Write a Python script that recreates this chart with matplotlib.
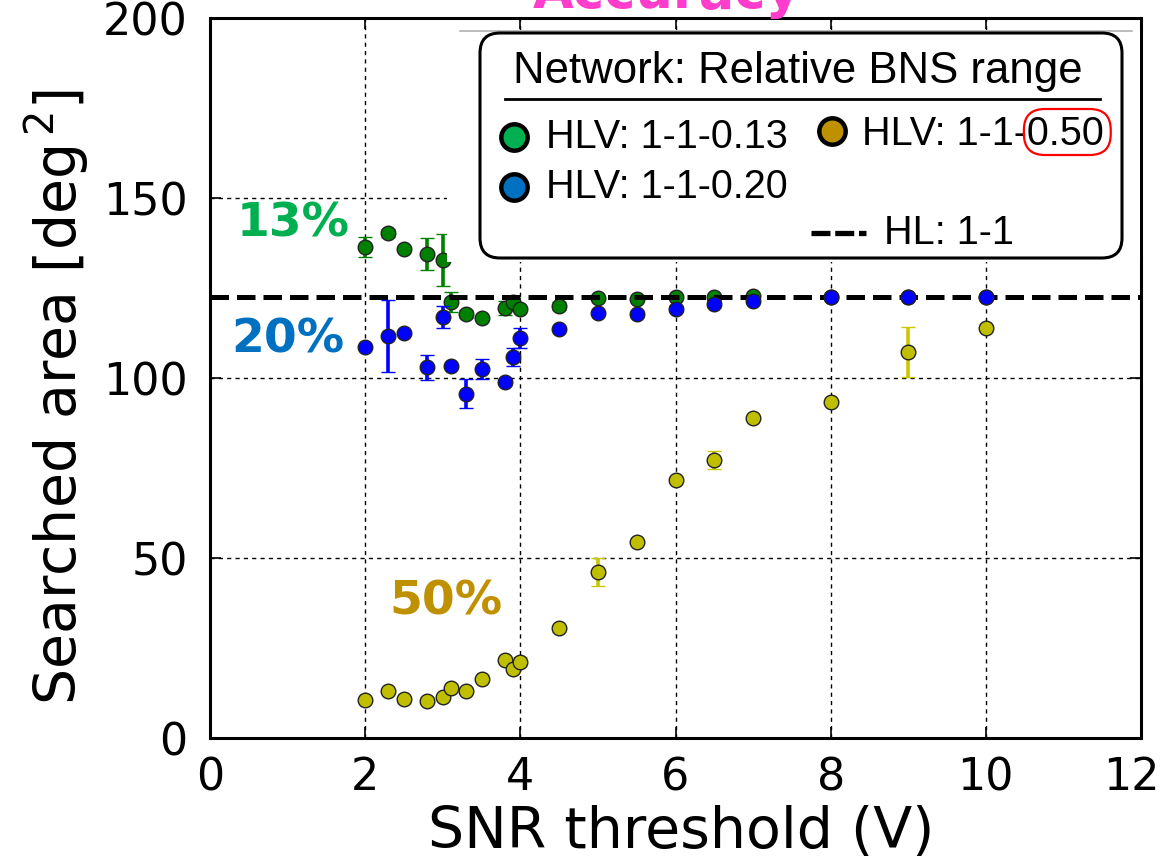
import matplotlib
matplotlib.use("Agg")
import matplotlib.pyplot as plt
from matplotlib.patches import FancyBboxPatch, Rectangle
from matplotlib.lines import Line2D
from matplotlib.transforms import Affine2D, ScaledTranslation

# ---------------- data ----------------
snr = [2.0, 2.3, 2.5, 2.8, 3.0, 3.1, 3.3, 3.5, 3.8, 3.9, 4.0, 4.5,
       5.0, 5.5, 6.0, 6.5, 7.0, 8.0, 9.0, 10.0]

area_013 = [136.4, 140.3, 135.8, 134.4, 132.8, 121.1, 117.8, 116.7, 119.4, 121.1,
            119.2, 120.0, 122.2, 122.0, 122.5, 122.6, 122.8, 122.6, 122.6, 122.6]
err_013 = [2.8, 1.0, 0.5, 4.4, 7.2, 2.8, 1.0, 0.5, 2.0, 1.0,
           0.5, 1.0, 0.5, 0.5, 0.5, 0.5, 0.5, 0.3, 0.3, 0.3]

area_020 = [108.6, 111.7, 112.5, 103.0, 116.9, 103.3, 95.6, 102.5, 98.9, 105.8,
            111.1, 113.6, 118.0, 117.8, 119.2, 120.6, 121.4, 122.5, 122.5, 122.5]
err_020 = [0.5, 10.0, 0.5, 3.5, 3.0, 0.5, 4.0, 2.7, 0.8, 2.5,
           2.8, 0.5, 0.5, 0.8, 0.8, 0.8, 0.5, 0.3, 0.3, 0.3]

area_050 = [10.6, 13.1, 10.7, 10.4, 11.3, 13.9, 13.1, 16.3, 21.7, 19.1,
            21.2, 30.5, 46.0, 54.4, 71.8, 77.3, 89.0, 93.2, 107.2, 113.9]
err_050 = [0.5, 0.5, 1.0, 1.0, 0.5, 0.5, 0.5, 0.5, 0.5, 0.5,
           1.2, 1.0, 3.9, 0.5, 0.8, 2.5, 0.5, 0.5, 7.0, 0.8]

hl_area = 122.5

x_ticks = [0, 2, 4, 6, 8, 10, 12]
y_ticks = [0, 50, 100, 150, 200]

legend_title = "Network: Relative BNS range"
legend_labels = ["HLV: 1-1-0.13", "HLV: 1-1-0.20", "HLV: 1-1-0.50", "HL: 1-1"]
legend_colors = ["#00b050", "#0070c0", "#bf9000"]
pct_labels = ["13%", "20%", "50%"]

# ---------------- figure ----------------
W, H = 1166, 868
fig = plt.figure(figsize=(W / 100, H / 100), dpi=100)
L, R, T, B = 210, 1141, 18, 738
ax = fig.add_axes([L / W, 1 - B / H, (R - L) / W, (B - T) / H])

# pixel (top-left origin) -> figure transform for decorations
P = Affine2D().scale(1 / W, -1 / H).translate(0, 1) + fig.transFigure

ms = 10.5
ekw = dict(fmt="o", ms=ms, mec="#222222", mew=1.0, elinewidth=2.6,
           capsize=5, capthick=1.8)

ax.errorbar(snr, area_050, yerr=err_050, color="#bfbf00", ecolor="#c8c800",
            zorder=3, **ekw)
ax.errorbar(snr, area_013, yerr=err_013, color="#008000", ecolor="#008000",
            zorder=3, **ekw)
ax.axhline(hl_area, color="black", lw=3.6, ls="--", zorder=4)
ax.errorbar(snr, area_020, yerr=err_020, color="#0000ff", ecolor="#0000ff",
            zorder=5, **ekw)

ax.set_xlim(0, 12)
ax.set_ylim(0, 200)
ax.set_xticks(x_ticks)
ax.set_yticks(y_ticks)
ax.grid(True, color="black", ls=(0, (3, 3)), lw=1.0, zorder=0)
ax.set_axisbelow(True)
ax.tick_params(direction="in", length=8, width=1.2, top=True, right=True,
               labelsize=32)
ax.tick_params(axis="x", pad=13)
ax.tick_params(axis="y", pad=16)
for s in ax.spines.values():
    s.set_linewidth(2.2)

# keep the last x tick label inside the figure (as in the reference)
last = ax.get_xticklabels()[-1]
last.set_transform(last.get_transform() +
                   ScaledTranslation(-10 / 100, 0, fig.dpi_scale_trans))

ax.set_xlabel("SNR threshold (V)", fontsize=41)
ax.xaxis.set_label_coords(0.506, -0.093)
ax.set_ylabel("Searched area [deg$^{\\,2}$]", fontsize=41)
ax.yaxis.set_label_coords(-0.128, 0.474)

# percentage annotations
ax.text(1.07, 142.8, pct_labels[0], color=legend_colors[0], fontsize=34,
        fontweight="bold", ha="center", va="center", zorder=6)
ax.text(1.00, 110.6, pct_labels[1], color=legend_colors[1], fontsize=34,
        fontweight="bold", ha="center", va="center", zorder=6)
ax.text(3.04, 37.9, pct_labels[2], color=legend_colors[2], fontsize=34,
        fontweight="bold", ha="center", va="center", zorder=6)

# title (partly cut off at top, as in the reference)
fig.text(667 / W, 1 - 8 / H, "Accuracy", color="#ff3ccc", fontsize=38,
         fontweight="bold", ha="center", va="baseline", zorder=20)

# ---------------- legend (custom panel) ----------------
fig.add_artist(Rectangle((447, 262), 693, -232, transform=P, facecolor="white",
                         edgecolor="none", zorder=8))
fig.add_artist(Line2D([460, 1132], [31, 31], transform=P, color="#b0b0b0",
                      lw=1.2, zorder=8))
fig.add_artist(FancyBboxPatch((480, 33), 642, 225, transform=P,
                              boxstyle="round,pad=0,rounding_size=20",
                              facecolor="white", edgecolor="black", lw=2.2,
                              zorder=9))
lf = "Liberation Sans"
fig.text(798 / W, 1 - 83 / H, legend_title, transform=fig.transFigure,
         fontsize=31.5, family=lf, ha="center", va="baseline", zorder=10)
fig.add_artist(Line2D([505, 1100], [99, 99], transform=P, color="black",
                      lw=2.0, zorder=10))

marker_pos = [(514, 137), (514, 187), (832, 131)]
text_pos = [(546, 137), (546, 187), (862, 134)]
gold_text = None
for i in range(3):
    fig.add_artist(Line2D([marker_pos[i][0]], [marker_pos[i][1]], transform=P,
                          marker="o", ms=19, mfc=legend_colors[i], mec="black",
                          mew=3.2, ls="none", zorder=10))
    t = fig.text(text_pos[i][0] / W, 1 - text_pos[i][1] / H, legend_labels[i],
                 fontsize=28.5, family=lf, ha="left", va="center", zorder=10)
    if i == 2:
        gold_text = t

dash = Line2D([811, 866], [233, 233], transform=P, color="black", lw=3.8,
              zorder=10)
dash.set_dashes((3.6, 0.9))
fig.add_artist(dash)
fig.text(884 / W, 1 - 233 / H, legend_labels[3], fontsize=28.5, family=lf,
         ha="left", va="center", zorder=10)

# red rounded highlight around "0.50"
fig.canvas.draw()
rend = fig.canvas.get_renderer()
bb_full = gold_text.get_window_extent(rend)
tmp = fig.text(text_pos[2][0] / W, 1 - text_pos[2][1] / H, "HLV: 1-1-",
               fontsize=28.5, family=lf, ha="left", va="center")
bb_pre = tmp.get_window_extent(rend)
tmp.remove()
x0 = bb_pre.x1 - 3
x1 = bb_full.x1 + 7
y0 = bb_full.y0 - 2
y1 = bb_full.y1 + 6
fig.add_artist(FancyBboxPatch((x0 / W, y0 / H), (x1 - x0) / W, (y1 - y0) / H,
                              transform=fig.transFigure,
                              boxstyle="round,pad=0,rounding_size=0.018",
                              mutation_aspect=W / H,
                              facecolor="none", edgecolor="red", lw=1.6,
                              zorder=11))

fig.savefig("out.png", dpi=100)
